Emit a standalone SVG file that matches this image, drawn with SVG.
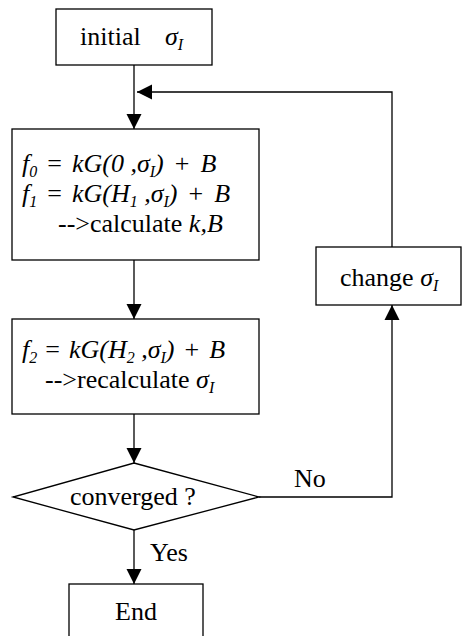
<svg xmlns="http://www.w3.org/2000/svg" width="462" height="636" viewBox="0 0 462 636">
<defs>
<style>
.box{fill:#fff;stroke:#000;stroke-width:1.3}
.ln{fill:none;stroke:#000;stroke-width:1.3}
text{font-family:"Liberation Serif","Times New Roman",serif;font-size:26px;fill:#000}
.it{font-style:italic}
.sub{font-size:16px;font-style:italic}
</style>
<marker id="ah" markerUnits="userSpaceOnUse" markerWidth="16" markerHeight="16" viewBox="0 0 16 16" refX="15" refY="8" orient="auto">
<path d="M0,0.5 L15,8 L0,15.5 Z" fill="#000"/>
</marker>
</defs>
<rect width="462" height="636" fill="#fff"/>
<g id="connectors">
<line class="ln" x1="134" y1="65" x2="134" y2="129" marker-end="url(#ah)"/>
<line class="ln" x1="134" y1="260" x2="134" y2="319" marker-end="url(#ah)"/>
<line class="ln" x1="134" y1="414" x2="134" y2="463" marker-end="url(#ah)"/>
<line class="ln" x1="134" y1="530" x2="134" y2="584" marker-end="url(#ah)"/>
<polyline class="ln" points="259,497 392,497 392,305" marker-end="url(#ah)"/>
<polyline class="ln" points="392,247 392,92 137,92" marker-end="url(#ah)"/>
<text x="150" y="561">Yes</text>
<text x="294" y="487">No</text>
</g>
<g id="initial">
<rect class="box" x="56" y="9" width="156" height="56"/>
<text x="80" y="45">initial<tspan class="it" x="165">σ</tspan><tspan class="sub" dy="5">I</tspan></text>
</g>
<g id="fit">
<rect class="box" x="12" y="129" width="247" height="131"/>
<text x="22" y="172"><tspan class="it">f</tspan><tspan class="sub" dy="5">0</tspan><tspan dx="10" dy="-5">=</tspan><tspan class="it" dx="10">kG(0 ,σ</tspan><tspan class="sub" dy="5">I</tspan><tspan class="it" dy="-5">)</tspan><tspan dx="11">+</tspan><tspan class="it" dx="11">B</tspan></text>
<text x="22" y="202"><tspan class="it">f</tspan><tspan class="sub" dy="5">1</tspan><tspan dx="10" dy="-5">=</tspan><tspan class="it" dx="10">kG(H</tspan><tspan class="sub" dy="5">1</tspan><tspan class="it" dy="-5"> ,σ</tspan><tspan class="sub" dy="5">I</tspan><tspan class="it" dy="-5">)</tspan><tspan dx="11">+</tspan><tspan class="it" dx="11">B</tspan></text>
<text x="58" y="232">--&gt;calculate <tspan class="it">k,B</tspan></text>
</g>
<g id="recalc">
<rect class="box" x="12" y="319" width="247" height="95"/>
<text x="22" y="358"><tspan class="it">f</tspan><tspan class="sub" dy="5">2</tspan><tspan dx="8" dy="-5">=</tspan><tspan class="it" dx="9">kG(H</tspan><tspan class="sub" dy="5">2</tspan><tspan class="it" dy="-5"> ,σ</tspan><tspan class="sub" dy="5">I</tspan><tspan class="it" dy="-5">)</tspan><tspan dx="10">+</tspan><tspan class="it" dx="10">B</tspan></text>
<text x="45" y="388">--&gt;recalculate <tspan class="it">σ</tspan><tspan class="sub" dy="5">I</tspan></text>
</g>
<g id="converged">
<polygon class="box" points="134,463 259,497 134,530 13,497"/>
<text x="70" y="505">converged ?</text>
</g>
<g id="change">
<rect class="box" x="316" y="247" width="145" height="58"/>
<text x="340" y="286">change <tspan class="it">σ</tspan><tspan class="sub" dy="5">I</tspan></text>
</g>
<g id="end">
<rect class="box" x="69" y="584" width="134" height="60"/>
<text x="115" y="620">End</text>
</g>
</svg>
